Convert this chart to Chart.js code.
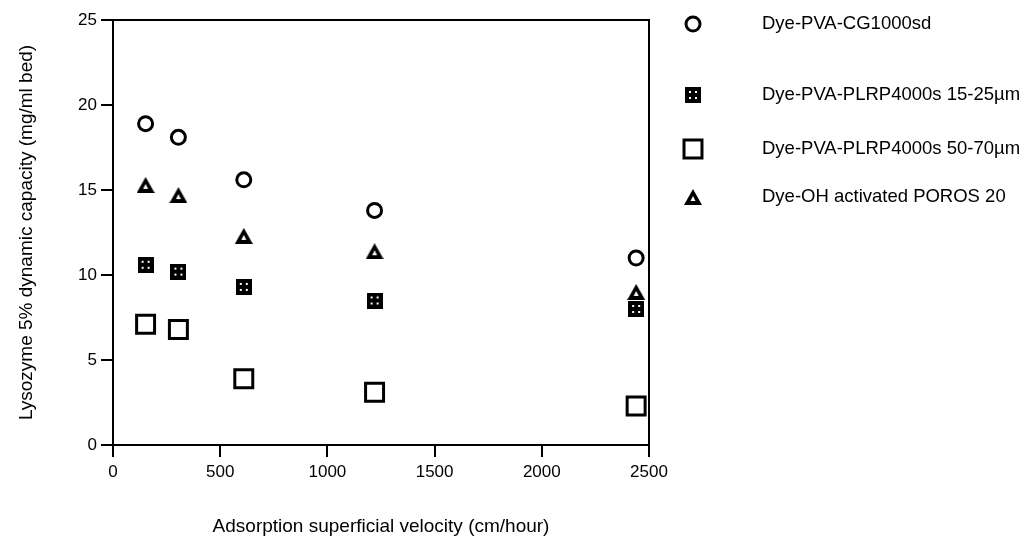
<!DOCTYPE html>
<html>
<head>
<meta charset="utf-8">
<script src="https://cdn.jsdelivr.net/npm/chart.js@4.4.0/dist/chart.umd.min.js"></script>
<style>
  html, body { margin: 0; padding: 0; background: #fff; }
  #wrap { width: 1036px; height: 543px; }
</style>
</head>
<body>
<div id="wrap"><canvas id="testChart" width="1036" height="543"></canvas></div>
<script>
// values
var velocity = [152, 305, 610, 1220, 2440];
var cg1000 = [18.9, 18.1, 15.6, 13.8, 11.0];
var plrp15 = [10.6, 10.2, 9.3, 8.5, 8.0];
var plrp50 = [7.1, 6.8, 3.9, 3.1, 2.3];
var poros = [15.3, 14.7, 12.3, 11.4, 9.0];
var seriesNames = [
  'Dye-PVA-CG1000sd',
  'Dye-PVA-PLRP4000s 15-25\u00b5m',
  'Dye-PVA-PLRP4000s 50-70\u00b5m',
  'Dye-OH activated POROS 20'
];
var xTicks = [0, 500, 1000, 1500, 2000, 2500];
var yTicks = [0, 5, 10, 15, 20, 25];

var FONT = "'Liberation Sans', Arial, Helvetica, sans-serif";

// black square with four white dots
function dotSquare() {
  var c = document.createElement('canvas');
  c.width = 16; c.height = 16;
  var g = c.getContext('2d');
  g.fillStyle = '#000';
  g.fillRect(0, 0, 16, 16);
  g.fillStyle = '#fff';
  g.fillRect(4, 4, 2, 2); g.fillRect(10, 4, 2, 2);
  g.fillRect(4, 10, 2, 2); g.fillRect(10, 10, 2, 2);
  return c;
}
// black triangle with small white hole
function holeTriangle() {
  var c = document.createElement('canvas');
  c.width = 18; c.height = 16;
  var g = c.getContext('2d');
  g.fillStyle = '#000';
  g.beginPath();
  g.moveTo(9, 0); g.lineTo(18, 16); g.lineTo(0, 16); g.closePath();
  g.fill();
  g.fillStyle = '#fff';
  g.beginPath();
  g.moveTo(9, 7); g.lineTo(11.5, 12); g.lineTo(6.5, 12); g.closePath();
  g.fill();
  return c;
}

function pts(ys) {
  return velocity.map(function (v, i) { return { x: v, y: ys[i] }; });
}

var datasets = [
  { label: seriesNames[0], data: pts(cg1000), pointStyle: 'circle', pointRadius: 7,
    borderColor: '#000', backgroundColor: '#fff', pointBorderWidth: 3 },
  { label: seriesNames[1], data: pts(plrp15), pointStyle: dotSquare(), pointRadius: 8,
    borderColor: '#000', backgroundColor: '#000', pointBorderWidth: 0 },
  { label: seriesNames[2], data: pts(plrp50), pointStyle: 'rect', pointRadius: 12.7,
    borderColor: '#000', backgroundColor: '#fff', pointBorderWidth: 3 },
  { label: seriesNames[3], data: pts(poros), pointStyle: holeTriangle(), pointRadius: 8,
    borderColor: '#000', backgroundColor: '#000', pointBorderWidth: 0 }
];

var legendRows = [24, 95, 149, 197];

// frame round the plot area plus the side legend
var framePlugin = {
  id: 'frame',
  afterDraw: function (chart) {
    var a = chart.chartArea, ctx = chart.ctx;
    ctx.save();
    ctx.strokeStyle = '#000';
    ctx.lineWidth = 2;
    ctx.beginPath();
    ctx.moveTo(a.left, a.top); ctx.lineTo(a.right, a.top); ctx.lineTo(a.right, a.bottom);
    ctx.stroke();
    chart.data.datasets.forEach(function (ds, i) {
      var y = legendRows[i];
      ctx.fillStyle = ds.backgroundColor; ctx.strokeStyle = '#000'; ctx.lineWidth = ds.pointBorderWidth;
      if (typeof ds.pointStyle === 'string') {
        ctx.beginPath();
        if (ds.pointStyle === 'circle') ctx.arc(693, y, ds.pointRadius, 0, Math.PI * 2);
        else { var s = Math.SQRT1_2 * ds.pointRadius; ctx.rect(693 - s, y - s, 2 * s, 2 * s); }
        ctx.fill(); ctx.stroke();
      } else {
        ctx.drawImage(ds.pointStyle, 693 - ds.pointStyle.width / 2, y - ds.pointStyle.height / 2);
      }
      ctx.fillStyle = '#000';
      ctx.font = '18.5px ' + FONT;
      ctx.textBaseline = 'middle';
      ctx.textAlign = 'left';
      ctx.fillText(ds.label, 762, y);
    });
    ctx.restore();
  }
};

var config = {
  type: 'scatter',
  data: { datasets: datasets },
  options: {
    responsive: false,
    animation: false,
    events: [],
    layout: { padding: { left: 0, right: 387, top: 20, bottom: 0 } },
    plugins: { legend: { display: false }, tooltip: { enabled: false } },
    scales: {
      x: {
        type: 'linear', min: 0, max: 2500,
        afterBuildTicks: function (s) { s.ticks = xTicks.map(function (v) { return { value: v }; }); },
        afterFit: function (s) { s.height = 98; },
        grid: { drawOnChartArea: false, drawTicks: true, tickLength: 12, color: '#000', lineWidth: 2 },
        border: { display: true, color: '#000', width: 2 },
        ticks: { color: '#000', padding: 5, maxRotation: 0, font: { family: FONT, size: 17 },
          callback: function (v) { return String(v); } },
        title: { display: true, text: 'Adsorption superficial velocity (cm/hour)', color: '#000',
          font: { family: FONT, size: 19 }, padding: { top: 4, bottom: 5 } }
      },
      y: {
        type: 'linear', min: 0, max: 25,
        afterBuildTicks: function (s) { s.ticks = yTicks.map(function (v) { return { value: v }; }); },
        afterFit: function (s) { s.width = 113; },
        grid: { drawOnChartArea: false, drawTicks: true, tickLength: 12, color: '#000', lineWidth: 2 },
        border: { display: true, color: '#000', width: 2 },
        ticks: { color: '#000', padding: 4, font: { family: FONT, size: 17 } },
        title: { display: true, text: 'Lysozyme 5% dynamic capacity (mg/ml bed)', color: '#000',
          font: { family: FONT, size: 19 }, padding: { top: 15, bottom: 4 } }
      }
    }
  },
  plugins: [framePlugin]
};

var testChart = new Chart(document.getElementById('testChart'), config);
</script>
</body>
</html>
